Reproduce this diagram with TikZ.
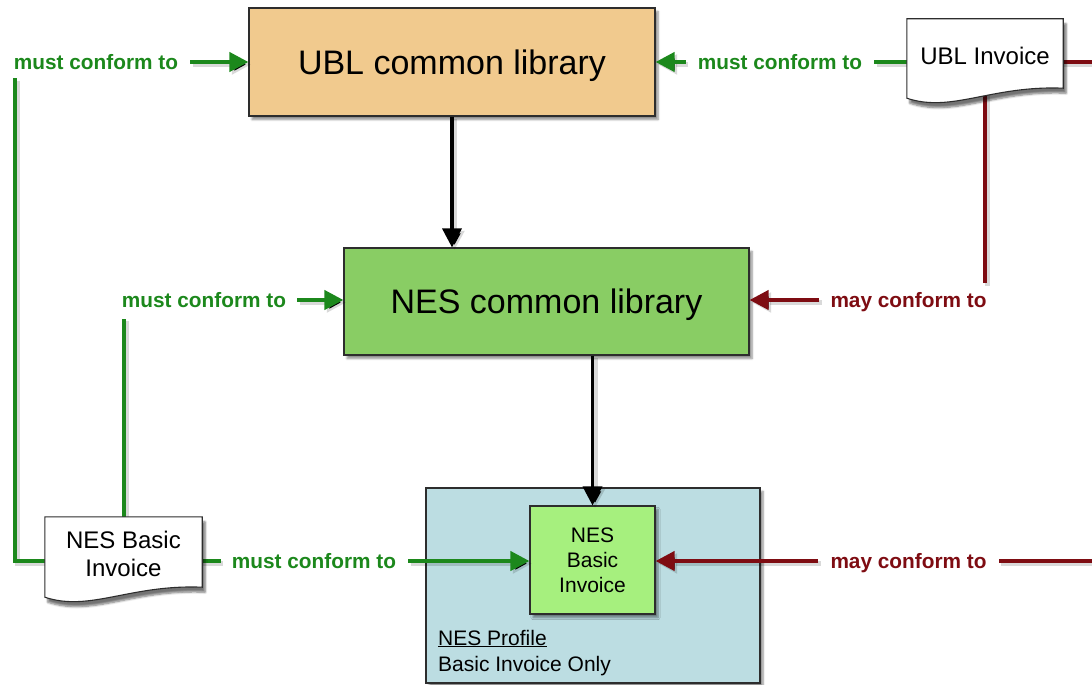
\documentclass[tikz,border=0pt]{standalone}
\usepackage{fontspec}
\setmainfont{Liberation Sans}
\usetikzlibrary{arrows.meta,shadows.blur,calc}

\definecolor{ublfill}{RGB}{241,202,142}
\definecolor{nesfill}{RGB}{137,205,100}
\definecolor{proffill}{RGB}{188,221,226}
\definecolor{innerfill}{RGB}{166,240,126}
\definecolor{conformgreen}{RGB}{28,136,28}
\definecolor{conformred}{RGB}{126,12,18}
\definecolor{edgegray}{RGB}{45,45,45}

\tikzset{
  shadowed/.style={blur shadow={shadow xshift=3pt, shadow yshift=-3.5pt,
      shadow blur steps=6, shadow opacity=45}},
  box/.style={draw=edgegray, line width=1.1pt, shadowed, inner sep=0pt, align=center},
  bigtext/.style={font=\fontsize{34}{40}\selectfont, text depth=0pt},
  midtext/.style={font=\fontsize{21}{25}\selectfont},
  lbl/.style={font=\bfseries\fontsize{20.8}{24}\selectfont, inner sep=0pt, text depth=0pt},
  glabel/.style={lbl, text=conformgreen},
  rlabel/.style={lbl, text=conformred},
  soft/.style={preaction={draw=black, draw opacity=0.15, line width=5pt,
      transform canvas={shift={(2.5pt,-2.5pt)}}}},
  gline/.style={soft, draw=conformgreen, line width=4pt},
  rline/.style={soft, draw=conformred, line width=4pt},
  kline/.style={soft, draw=black, line width=3.5pt},
  tip/.style={-{Triangle[length=19pt,width=19pt]}},
  docframe/.style={minimum width=156pt, minimum height=79pt, inner sep=0pt},
  doctext/.style={inner sep=0pt, align=center, font=\fontsize{24}{28}\selectfont},
  docshape/.style={draw=edgegray, line width=1.1pt, fill=white,
      blur shadow={shadow xshift=3pt, shadow yshift=-5pt,
      shadow blur steps=6, shadow opacity=55}},
}

% document symbol: flat top, wavy bottom edge
\newcommand\docoutline[1]{%
  \path[docshape] (#1.north west) -- (#1.north east) -- ([yshift=10pt]#1.south east)
    .. controls ($(#1.south east)+(-72pt,13pt)$) and ($(#1.south west)+(45pt,-15pt)$)
    .. (#1.south west) -- cycle;}

\begin{document}
\begin{tikzpicture}[x=1pt,y=-1pt]
\useasboundingbox (0,0) rectangle (1092,685);

% libraries and profile
\node[box, fill=ublfill, bigtext, minimum width=406pt, minimum height=108pt] (ubl) at (452,62) {UBL common library};
\node[box, fill=nesfill, bigtext, minimum width=405pt, minimum height=107pt] (nes) at (546.5,301.5) {NES common library};
\node[box, fill=proffill, minimum width=334pt, minimum height=195pt] (profile) at (593,585.5) {};
\node[box, fill=innerfill, midtext, minimum width=125pt, minimum height=108pt] (inner) at (592.5,560) {NES\\Basic\\Invoice};
\node[midtext, anchor=base west, inner sep=0pt] (proftitle) at (438,645) {\underline{NES Profile}};
\node[midtext, anchor=base west, inner sep=0pt] (profnote) at (438,671) {Basic Invoice Only};

% frames of the two documents
\node[docframe] (ublinv) at (985,58.5) {};
\node[docframe, minimum width=157pt, minimum height=80pt] (nesdoc) at (123.5,557) {};

% relation labels
\node[glabel] (lblA) at (96,62) {must conform to};
\node[glabel] (lblB) at (204,300) {must conform to};
\node[glabel] (lblC) at (314,561) {must conform to};
\node[glabel] (lblD) at (780,62) {must conform to};
\node[rlabel] (lblE) at (908.5,300) {may conform to};
\node[rlabel] (lblF) at (908.5,561) {may conform to};

\coordinate (cornerA) at (15,78);
\coordinate (edgeR) at (1100,0);

% NES Basic Invoice document -> UBL common library
\draw[gline] (nesdoc.center |- lblC.west) -| (cornerA);
\draw[gline, tip] ([xshift=12pt]lblA.east) -- (ubl.west |- lblA.east);
% NES Basic Invoice document -> NES common library
\draw[gline] (nesdoc.center) -- ([yshift=-11pt]nesdoc.center |- lblB.south);
\draw[gline, tip] ([xshift=11pt]lblB.east) -- (nes.west |- lblB.east);
% NES Basic Invoice document -> profile
\draw[gline] (nesdoc.center |- lblC.west) -- ([xshift=-11pt]lblC.west);
\draw[gline, tip] ([xshift=12pt]lblC.east) -- (inner.west |- lblC.east);
% UBL Invoice -> UBL common library
\draw[gline] (ublinv.center |- lblD.east) -- ([xshift=12pt]lblD.east);
\draw[gline, tip] ([xshift=-12pt]lblD.west) -- (ubl.east |- lblD.west);
% UBL Invoice -> NES common library
\draw[rline] (ublinv.center) -- ([yshift=9pt]ublinv.center |- lblE.north);
\draw[rline, tip] ([xshift=-11pt]lblE.west) -- (nes.east |- lblE.west);
% UBL Invoice -> profile
\draw[rline] (ublinv.center |- lblD.east) -| (edgeR |- lblF.east) -- ([xshift=12pt]lblF.east);
\draw[rline, tip] ([xshift=-12pt]lblF.west) -- (inner.east |- lblF.west);

% derivation arrows
\draw[kline, tip] (ubl.south) -- (ubl.south |- nes.north);
\draw[kline, tip] (inner.north |- nes.south) -- (inner.north);

% documents, drawn over the line ends
\docoutline{ublinv}
\docoutline{nesdoc}
\node[doctext] (ublinvtext) at ([yshift=3pt]ublinv.center) {UBL Invoice};
\node[doctext] (nesdoctext) at ([yshift=3pt]nesdoc.center) {NES Basic\\Invoice};
\end{tikzpicture}
\end{document}
